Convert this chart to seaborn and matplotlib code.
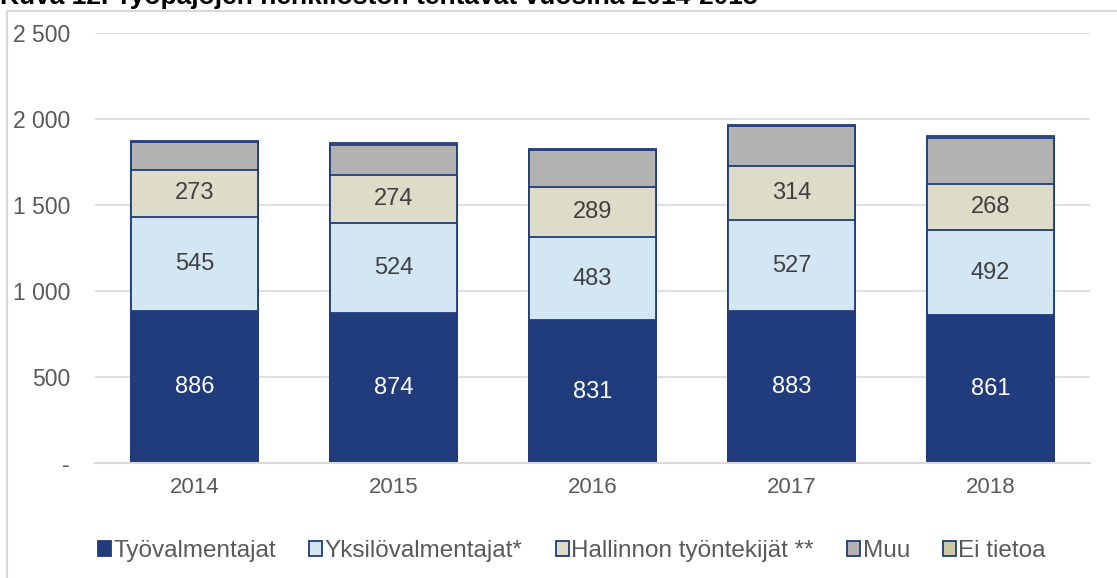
import numpy as np
import pandas as pd
import matplotlib
matplotlib.use("Agg")
import matplotlib.pyplot as plt
from matplotlib.patches import Patch, Rectangle
import seaborn as sns

years = ["2014", "2015", "2016", "2017", "2018"]
tyovalmentajat = [886, 874, 831, 883, 861]
yksilovalmentajat = [545, 524, 483, 527, 492]
hallinnon = [273, 274, 289, 314, 268]
muu = [165, 176, 215, 238, 268]
ei_tietoa = [4, 12, 8, 3, 12]

groups = ["Työvalmentajat", "Yksilövalmentajat*", "Hallinnon työntekijät **", "Muu", "Ei tietoa"]
colors = ["#203C7C", "#D2E6F4", "#DCDCC8", "#B2B2B2", "#C9C9A6"]
text_colors = ["white", "#404040", "#404040", None, None]
edge = "#203C7C"

df = pd.DataFrame({"year": years,
                   groups[0]: tyovalmentajat,
                   groups[1]: yksilovalmentajat,
                   groups[2]: hallinnon,
                   groups[3]: muu,
                   groups[4]: ei_tietoa})
cum = df[groups].cumsum(axis=1)

sns.set_style("white")
plt.rcParams["font.family"] = ["Liberation Sans", "DejaVu Sans"]

fig = plt.figure(figsize=(11.17, 5.78), dpi=100)
ax = fig.add_axes([95 / 1117, 1 - 463 / 578, 995 / 1117, 430 / 578])

# draw stacked bars from top layer down so lower layers overlay
for g, c in reversed(list(zip(groups, colors))):
    sns.barplot(x=df["year"], y=cum[g], color=c, width=0.64, edgecolor=edge,
                linewidth=1.3, ax=ax, saturation=1)

# value labels
for i, (g, tc) in enumerate(zip(groups, text_colors)):
    if tc is None:
        continue
    for j in range(len(years)):
        mid = cum[g].iloc[j] - df[g].iloc[j] / 2
        ax.text(j, mid, f"{df[g].iloc[j]}", ha="center", va="center",
                fontsize=17, color=tc)

ax.set_ylim(0, 2500)
ax.set_xlim(-0.5, 4.5)
ax.set_yticks([0, 500, 1000, 1500, 2000, 2500])
ax.set_yticklabels(["-", "500", "1 000", "1 500", "2 000", "2 500"])
ax.yaxis.grid(True, color="#D9D9D9", linewidth=1.2)
ax.set_axisbelow(True)
for s in ["top", "right", "left"]:
    ax.spines[s].set_visible(False)
ax.spines["bottom"].set_color("#D9D9D9")
ax.spines["bottom"].set_linewidth(1.5)
ax.tick_params(axis="both", length=0, labelsize=16, colors="#595959", pad=10)
ax.tick_params(axis="y", labelsize=16.5, pad=18)
ax.set_xlabel("")
ax.set_ylabel("")

handles = [Patch(facecolor=c, edgecolor=edge, linewidth=1.3, label=g)
           for g, c in zip(groups, colors)]
fig.legend(handles=handles, loc="center", bbox_to_anchor=(0.512, 1 - 551 / 578),
           ncol=5, frameon=False, fontsize=17.5, handlelength=0.55,
           handleheight=0.55, handletextpad=0.1, columnspacing=1.35,
           labelcolor="#595959")

# outer chart frame
fig.patches.append(Rectangle((7 / 1117, -0.05), 1.1, 1 - 11 / 578 + 0.05,
                             transform=fig.transFigure, fill=False,
                             edgecolor="#D9D9D9", linewidth=1.5))

fig.text(0.0, 1 - 9 / 578, "Kuva 12. Työpajojen henkilöstön tehtävät vuosina 2014-2018",
         ha="left", va="bottom", fontsize=19, fontweight="bold", color="black")

fig.savefig("out.png", dpi=100)
